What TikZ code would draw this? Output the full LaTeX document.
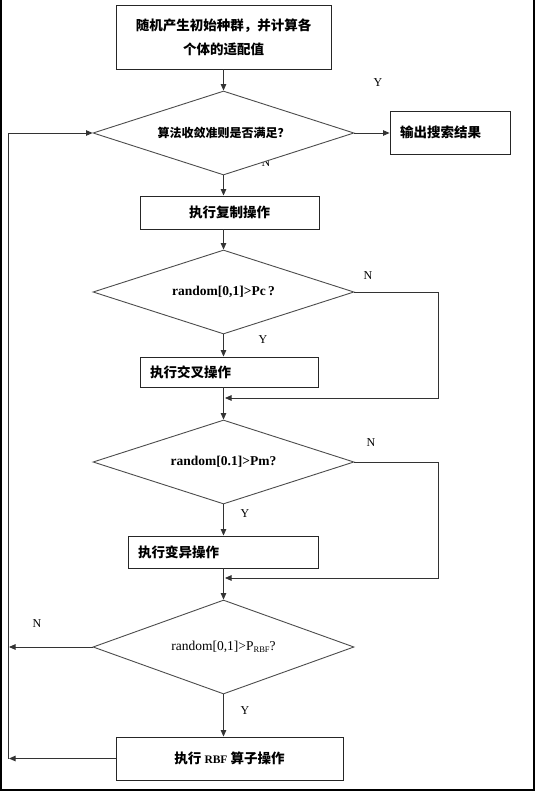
\documentclass[tikz,border=0pt]{standalone}
\usepackage{fontspec}
\setmainfont{Liberation Serif}
\newfontfamily\cjk{Noto Sans CJK SC}
\usetikzlibrary{shapes.geometric,arrows.meta}
\tikzset{
 box/.style={draw=black!85, line width=0.9pt, fill=white, inner sep=0pt, align=center,
   font=\cjk\bfseries\fontsize{13.5}{24}\selectfont},
 lbox/.style={box, align=left},
 dia/.style={diamond, draw=black!70, line width=0.9pt, fill=white, inner sep=0pt,
   minimum width=261pt, minimum height=84pt, aspect=3},
 diatxt/.style={font=\bfseries\fontsize{13.5}{14}\selectfont},
 conn/.style={draw=black!80, line width=0.9pt},
 arr/.style={conn, -{Triangle[length=6.5pt,width=5.5pt]}},
 yn/.style={font=\fontsize{12}{12}\selectfont, inner sep=0pt},
 frame/.style={draw=black, line width=2pt},
}
\begin{document}
\begin{tikzpicture}[x=1pt,y=-1pt]
\useasboundingbox (0,0) rectangle (535,791);
% frame (left, bottom, right)
\draw[frame] (1,0) -- (1,790) -- (534,790) -- (534,0);

% labels under shapes
\node[yn] (n1) at (266,163) {N};

% nodes
\node[box, minimum width=215pt, minimum height=64pt] (b1) at (223.5,37)
  {随机产生初始种群，并计算各\\个体的适配值};
\node[dia, diatxt, font=\cjk\bfseries\fontsize{12}{14}\selectfont] (d1) at (223.5,133) {算法收敛准则是否满足？};
\node[lbox, text width=100pt, inner xsep=10pt, minimum height=43pt] (out) at (450,132.5) {输出搜索结果};
\node[box, minimum width=179pt, minimum height=33pt] (b2) at (229.5,212.5) {执行复制操作};
\node[dia, diatxt] (d2) at (223.5,292) {random[0,1]>Pc\,?};
\node[lbox, text width=158pt, inner xsep=10pt, minimum height=30pt] (b3) at (229,372) {执行交叉操作};
\node[dia, diatxt] (d3) at (223.5,462) {random[0.1]>Pm?};
\node[lbox, text width=170pt, inner xsep=10pt, minimum height=32pt] (b4) at (223,552) {执行变异操作};
\node[dia, minimum height=94pt, font=\fontsize{13.5}{14}\selectfont] (d4) at (223.5,647)
  {random[0,1]>P\raisebox{-0.3ex}{\fontsize{8.5}{9}\selectfont RBF}?};
\node[box, minimum width=227pt, minimum height=43pt] (b5) at (229.5,758.5)
  {执行 {\rmfamily\bfseries\fontsize{11.5}{12}\selectfont RBF} 算子操作};

% Y / N labels
\node[yn] (y1) at (378,83) {Y};
\node[yn] (n2) at (368,276) {N};
\node[yn] (y2) at (263,340) {Y};
\node[yn] (n3) at (371,443) {N};
\node[yn] (y3) at (245,514) {Y};
\node[yn] (n4) at (37,624) {N};
\node[yn] (y4) at (245,711) {Y};

% helper coordinates
\coordinate (k1) at (438,398);
\coordinate (m1) at (225,398);
\coordinate (k2) at (438,578);
\coordinate (m2) at (225,578);
\coordinate (L1) at (9,647);
\coordinate (L2) at (9,758.5);
\coordinate (L3) at (8,758.5);
\coordinate (L4) at (8,133);

% connectors
\draw[arr] (b1.south) -- (d1.north);
\draw[arr] (d1.east) -- (d1.east -| out.west);
\draw[arr] (d1.south) -- (d1.south |- b2.north);
\draw[arr] (d1.south |- b2.south) -- (d2.north);
\draw[arr] (d2.south) -- (d2.south |- b3.north);
\draw[arr] (d2.south |- b3.south) -- (d3.north);
\draw[arr] (d2.east) -| (k1) -- (m1);
\draw[arr] (d3.south) -- (d3.south |- b4.north);
\draw[arr] (d3.south |- b4.south) -- (d4.north);
\draw[arr] (d3.east) -| (k2) -- (m2);
\draw[arr] (d4.west) -- (L1);
\draw[arr] (d4.south) -- (d4.south |- b5.north);
\draw[arr] (b5.west) -- (L2);
\draw[arr] (L3) -- (L4) -- (d1.west);
\end{tikzpicture}
\end{document}
